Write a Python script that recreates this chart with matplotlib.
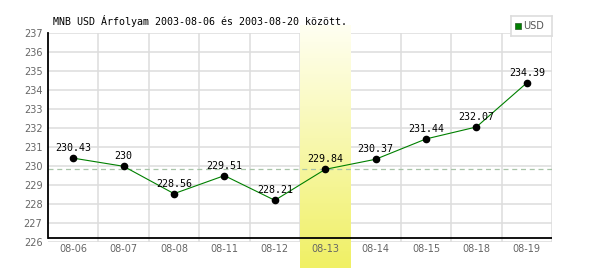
import numpy as np
import matplotlib
matplotlib.use("Agg")
import matplotlib.pyplot as plt
from matplotlib.colors import LinearSegmentedColormap

# MNB USD exchange rates, 2003-08-06 .. 2003-08-19
dates = ["08-06", "08-07", "08-08", "08-11", "08-12",
         "08-13", "08-14", "08-15", "08-18", "08-19"]
rates = [230.43, 230.00, 228.56, 229.51, 228.21,
         229.84, 230.37, 231.44, 232.07, 234.39]
labels = ["230.43", "230", "228.56", "229.51", "228.21",
          "229.84", "230.37", "231.44", "232.07", "234.39"]
highlight_idx = 5
y_ticks = list(range(226, 238))
title = "MNB USD Árfolyam 2003-08-06 és 2003-08-20 között."

W, H = 600, 270
fig = plt.figure(figsize=(W / 100, H / 100), dpi=100)
fig.patch.set_facecolor("white")

# axes box in pixels: x 48..552, y 33.3..242.3 (from top)
left, right, top, bottom = 48, 552, 33.3, 242.3
ax = fig.add_axes([left / W, (H - bottom) / H, (right - left) / W, (bottom - top) / H])
ax.set_facecolor("none")

ymin, ymax = y_ticks[0], y_ticks[-1]
ax.set_xlim(-0.5, len(dates) - 0.5)
ax.set_ylim(ymin, ymax)
px_per_unit = (bottom - top) / (ymax - ymin)

grid_col = "#dddddd"
for y in y_ticks:
    ax.axhline(y, color=grid_col, lw=1.1, zorder=0)
for i in range(len(dates)):
    ax.axvline(i + 0.5, color=grid_col, lw=1.1, zorder=0)

# highlighted day band with vertical gradient, running past the axes
band_top = ymax + (top - 25) / px_per_unit
band_bot = ymin - (268 - bottom) / px_per_unit
cmap = LinearSegmentedColormap.from_list("band", ["#fffff2", "#f0f064"])
grad = np.linspace(0, 1, 256).reshape(-1, 1)
ax.imshow(grad, cmap=cmap, aspect="auto", origin="upper",
          extent=[highlight_idx - 0.5, highlight_idx + 0.5, band_bot, band_top],
          clip_on=False, zorder=1)

# reference line at the highlighted day's value
ax.axhline(rates[highlight_idx], color="#a8c4a8", lw=0.9, ls=(0, (4, 3)), zorder=1.5)

# black axis lines
x_axis_y = ymin + (bottom - 238) / px_per_unit
ax.axhline(x_axis_y, color="black", lw=1.3, zorder=3)
for s in ax.spines.values():
    s.set_visible(False)
ax.spines["left"].set_visible(True)
ax.spines["left"].set_bounds(x_axis_y, ymax)
ax.spines["left"].set_linewidth(1.3)
ax.spines["left"].set_zorder(3)

x = np.arange(len(dates))
ax.plot(x, rates, color="#008000", lw=0.8, zorder=4)
ax.plot(x, rates, "o", color="black", ms=4.5, zorder=5)

for xi, yi, lab in zip(x, rates, labels):
    ax.annotate(lab, (xi, yi), xytext=(0, 3.5), textcoords="offset points",
                ha="center", va="bottom", fontsize=7.2, family="DejaVu Sans Mono",
                color="black", zorder=6)

ax.set_yticks(y_ticks)
ax.set_xticks(x)
ax.set_xticklabels(dates)
ax.tick_params(length=0, labelsize=7, colors="#666666", pad=4)
ax.tick_params(axis="x", pad=1.5)
for t in ax.get_xticklabels() + ax.get_yticklabels():
    t.set_family("DejaVu Sans")

fig.text(53 / W, 1 - 25 / H, title, fontsize=7.2, family="DejaVu Sans Mono",
         color="black", va="baseline", ha="left")

# legend box
lg = fig.add_axes([511 / W, 1 - 36 / H, 41 / W, 20 / H])
lg.set_xticks([])
lg.set_yticks([])
for s in lg.spines.values():
    s.set_color("#dddddd")
    s.set_linewidth(1.2)
lg.set_xlim(0, 41)
lg.set_ylim(0, 20)
lg.plot([7], [10], "s", color="#008000", ms=4.5, mec="#225522", mew=0.5)
lg.text(12, 10, "USD", fontsize=7, family="DejaVu Sans", color="#555555",
        va="center", ha="left")

fig.savefig("out.png", dpi=100)
